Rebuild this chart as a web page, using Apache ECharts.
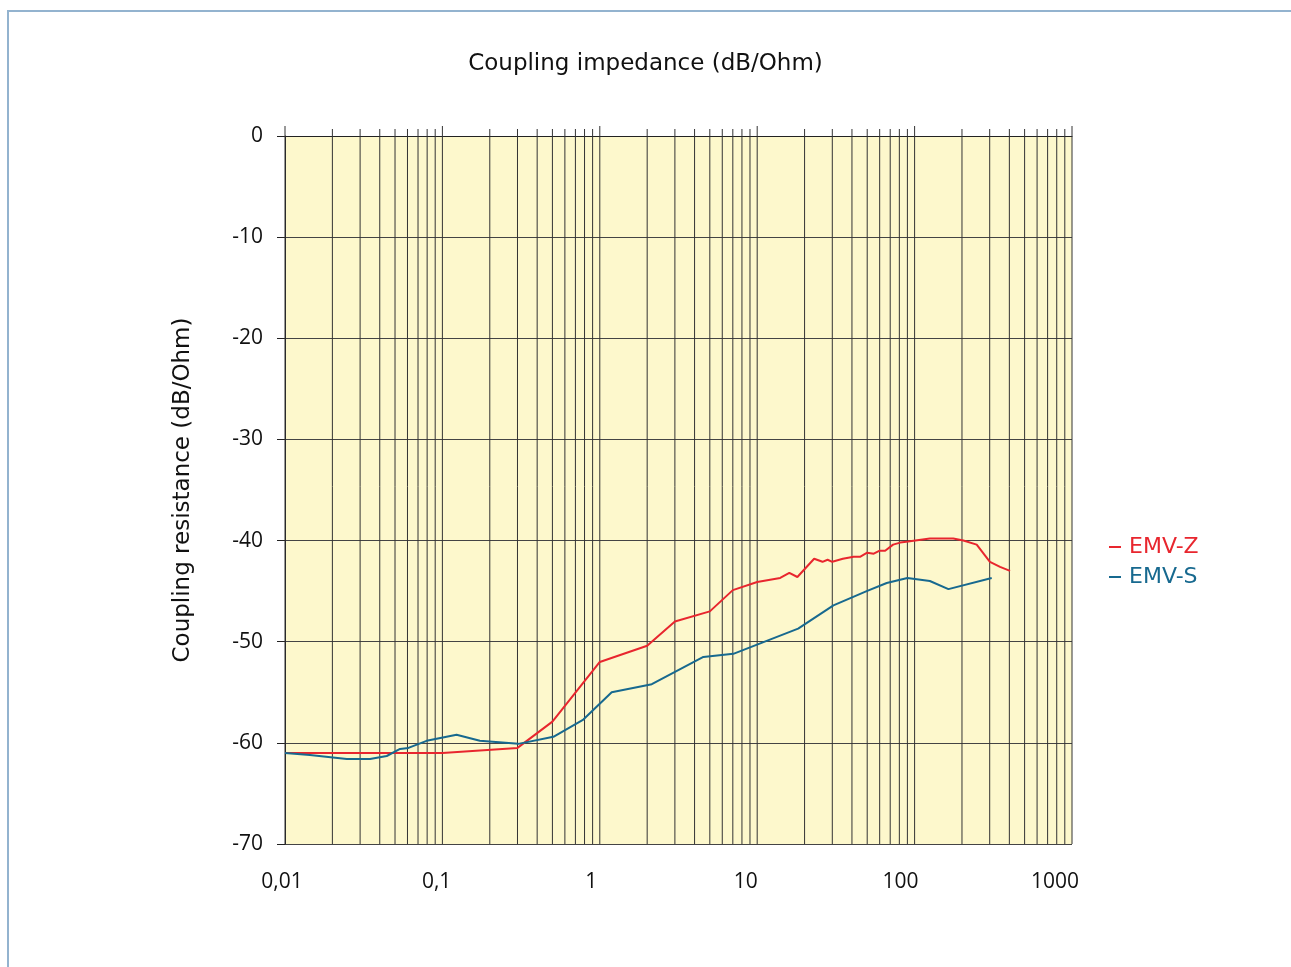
<!DOCTYPE html>
<html>
<head>
<meta charset="utf-8">
<script src="https://cdn.jsdelivr.net/npm/echarts@6/dist/echarts.min.js"></script>
<style>
    html, body { margin: 0; padding: 0; background: #fff; }
    #frame { position: absolute; left: 7px; top: 10px; right: 0; bottom: 0;
             border-top: 2px solid #93b3cf; border-left: 2px solid #93b3cf; }
    #chart { position: absolute; left: 0; top: 0; width: 1291px; height: 967px; }
</style>
</head>
<body>
<div id="frame"></div>
<div id="chart"></div>
<script>
// frequency (MHz) / coupling resistance (dB/Ohm)
const emvZ = [
    [0.01, -61.0], [0.1, -61.0], [0.3, -60.5], [0.5, -57.9], [1.0, -52.0],
    [2.0, -50.4], [3.0, -48.0], [5.0, -47.0], [7.0, -44.9], [10, -44.1],
    [14, -43.7], [16, -43.2], [18, -43.6], [23, -41.8], [26, -42.1],
    [28, -41.9], [30, -42.1], [35, -41.8], [41, -41.6], [45, -41.6],
    [50, -41.2], [55, -41.3], [60, -41.0], [65, -41.0], [73, -40.4],
    [81, -40.2], [91, -40.1], [125, -39.8], [176, -39.8], [204, -40.0],
    [248, -40.4], [301, -42.1], [349, -42.6], [404, -43.0]
];
const emvS = [
    [0.01, -61.0], [0.0144, -61.2], [0.0247, -61.6], [0.0347, -61.6], [0.0443, -61.3],
    [0.0538, -60.6], [0.0608, -60.5], [0.0794, -59.8], [0.123, -59.2], [0.173, -59.8],
    [0.304, -60.1], [0.507, -59.4], [0.786, -57.7], [1.19, -55.0], [2.14, -54.2],
    [4.55, -51.5], [7.05, -51.2], [18.2, -48.7], [30.5, -46.4], [49.6, -45.0],
    [66.5, -44.2], [90, -43.7], [125, -44.0], [164, -44.8], [309, -43.7]
];
// vertical log grid lines
const gridX = [
    0.01, 0.02, 0.03, 0.04, 0.05, 0.06, 0.07, 0.08, 0.09,
    0.1, 0.2, 0.3, 0.4, 0.5, 0.6, 0.7, 0.8, 0.9,
    1, 2, 3, 4, 5, 6, 7, 8, 9,
    10, 20, 30, 40, 50, 60, 70, 80, 90,
    100, 200, 300, 400, 500, 600, 700, 800, 900, 1000
];
const decades = [0.01, 0.1, 1, 10, 100, 1000];

const FONT = "'Open Sans', sans-serif";
const NAME_FONT = "'DejaVu Sans', sans-serif";
const RED = "#e8262e";
const BLUE = "#17698f";

const chart = echarts.init(document.getElementById("chart"));
const option = {
    animation: false,
    textStyle: { fontFamily: FONT },
    title: {
        text: "Coupling impedance (dB/Ohm)",
        left: "center",
        top: 48,
        textStyle: { fontFamily: NAME_FONT, fontSize: 23, fontWeight: "normal", color: "#111" }
    },
    legend: {
        orient: "vertical",
        left: 1104,
        top: 531,
        itemGap: 8,
        itemWidth: 12,
        itemHeight: 2,
        icon: "rect",
        textStyle: { fontFamily: NAME_FONT, fontSize: 22, padding: [0, 0, 0, 3] },
        data: [
            { name: "EMV-Z", textStyle: { color: RED } },
            { name: "EMV-S", textStyle: { color: BLUE } }
        ]
    },
    grid: [
        {
            left: 285,
            top: 136,
            right: 219,
            bottom: 123,
            show: true,
            backgroundColor: "#fdf8cc",
            borderWidth: 0
        },
        // second grid only carries the frequency labels, spaced as in the original
        { left: 282, top: 136, right: 236, bottom: 123 }
    ],
    xAxis: [
        {
            type: "log",
            logBase: 10,
            min: 0.01,
            max: 1000,
            axisLine: { show: true, lineStyle: { color: "#222", width: 1 } },
            axisTick: { show: false },
            splitLine: { show: false },
            axisLabel: { show: false }
        },
        {
            gridIndex: 1,
            type: "log",
            logBase: 10,
            min: 0.01,
            max: 1000,
            axisLine: { show: false },
            axisTick: { show: false },
            splitLine: { show: false },
            axisLabel: {
                margin: 28,
                fontSize: 21,
                color: "#111",
                formatter: v => String(v).replace(".", ",")
            }
        }
    ],
    yAxis: [
        {
            type: "value",
            min: -70,
            max: 0,
            interval: 10,
            name: "Coupling resistance (dB/Ohm)",
            nameLocation: "middle",
            nameGap: 90,
            nameTextStyle: { fontFamily: NAME_FONT, fontSize: 23, color: "#111" },
            axisLine: { show: true, lineStyle: { color: "#222", width: 1 } },
            axisTick: { show: true, length: 8, lineStyle: { color: "#222" } },
            splitLine: { show: true, lineStyle: { color: "#444", width: 1.2 } },
            axisLabel: { margin: 22, fontSize: 21, color: "#111", padding: [4, 0, 0, 0] }
        },
        { gridIndex: 1, type: "value", min: -70, max: 0, show: false }
    ],
    series: [
        {
            name: "grid",
            type: "custom",
            silent: true,
            z: 1,
            clip: false,
            data: gridX.map(v => [v, 0]),
            renderItem: function (params, api) {
                const v = api.value(0);
                const top = api.coord([v, 0]);
                const bottom = api.coord([v, -70]);
                const ext = decades.indexOf(v) >= 0 ? 10 : 7;
                return {
                    type: "line",
                    shape: { x1: top[0], y1: top[1] - ext, x2: bottom[0], y2: bottom[1] },
                    style: { stroke: "#333", lineWidth: 1 }
                };
            }
        },
        {
            name: "EMV-Z",
            type: "line",
            z: 3,
            color: RED,
            symbol: "none",
            lineStyle: { width: 2, color: RED },
            data: emvZ
        },
        {
            name: "EMV-S",
            type: "line",
            z: 3,
            color: BLUE,
            symbol: "none",
            lineStyle: { width: 2, color: BLUE },
            data: emvS
        }
    ]
};
chart.setOption(option);
</script>
</body>
</html>
